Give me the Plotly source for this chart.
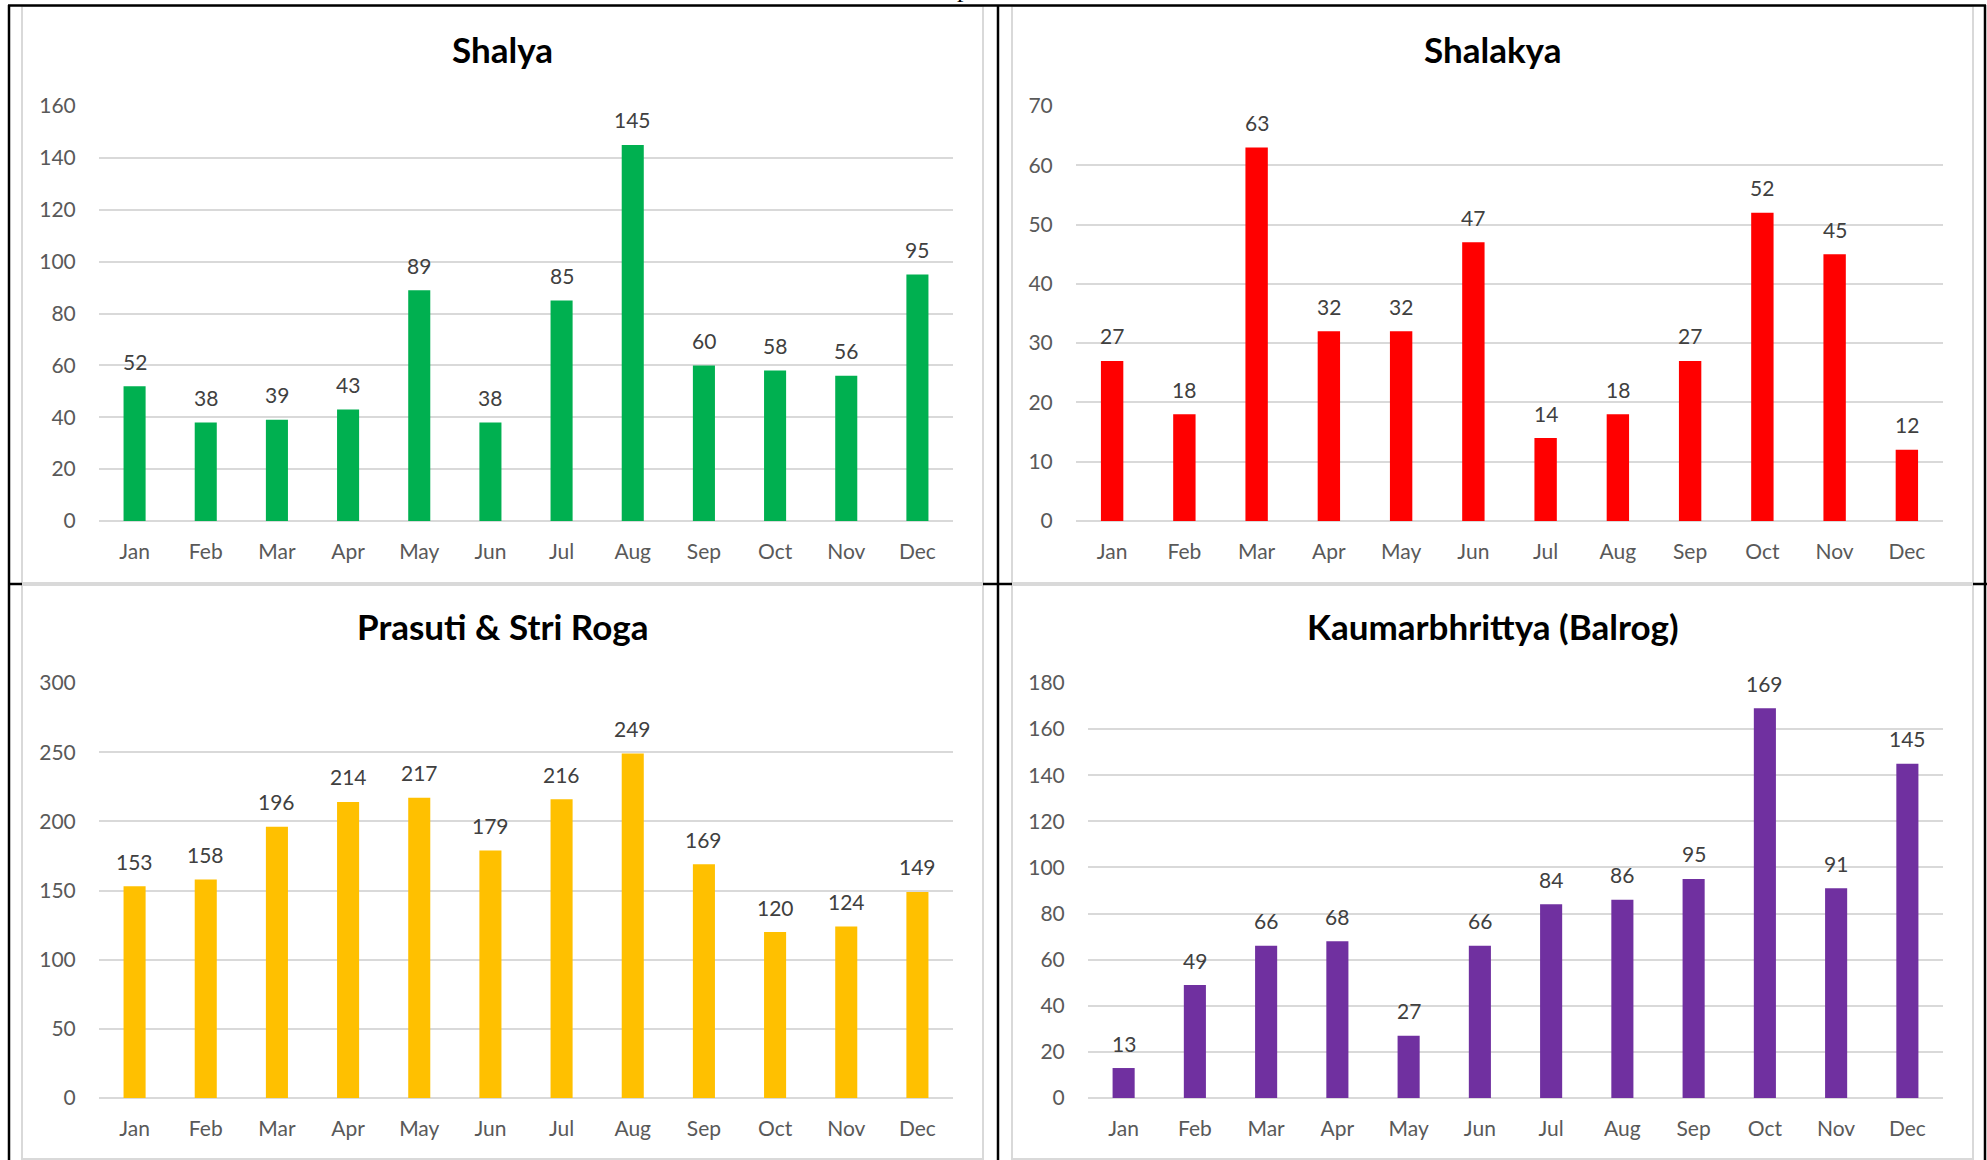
import plotly.graph_objects as go

W, H = 1987, 1160

months = ["Jan", "Feb", "Mar", "Apr", "May", "Jun", "Jul", "Aug", "Sep", "Oct", "Nov", "Dec"]
shalya = [52, 38, 39, 43, 89, 38, 85, 145, 60, 58, 56, 95]
shalakya = [27, 18, 63, 32, 32, 47, 14, 18, 27, 52, 45, 12]
prasuti = [153, 158, 196, 214, 217, 179, 216, 249, 169, 120, 124, 149]
kaumar = [13, 49, 66, 68, 27, 66, 84, 86, 95, 169, 91, 145]
titles = ["Shalya", "Shalakya", "Prasuti &amp; Stri Roga", "Kaumarbhrittya (Balrog)"]
y_max = [160, 70, 300, 180]
y_step = [20, 10, 50, 20]

series = [shalya, shalakya, prasuti, kaumar]
colors = ["#00B050", "#FF0000", "#FFC000", "#7030A0"]

# plot-area pixel boxes (x0, x1, ytop, ybottom)
areas = [(99, 953, 106, 521), (1076, 1943, 106, 521),
         (99, 953, 683, 1098), (1088, 1943, 683, 1098)]
# chart panel boxes (x0, y0, x1, y1)
panels = [(22, 6, 983, 583), (1012, 6, 1973, 583),
          (22, 585, 983, 1159), (1012, 585, 1973, 1159)]
title_pos = [(502.5, 49), (1492.5, 49), (502.5, 626), (1492.5, 626)]

FONT = "Lato"
px = lambda v: v / W
py = lambda v: 1 - v / H

fig = go.Figure()
shapes = []
annotations = []

for i in range(4):
    n = "" if i == 0 else str(i + 1)
    fig.add_trace(go.Bar(
        x=months, y=series[i], marker=dict(color=colors[i], line=dict(width=0)),
        cliponaxis=False, xaxis="x" + n, yaxis="y" + n, showlegend=False,
        hoverinfo="skip",
    ))
    for m, v in zip(months, series[i]):
        annotations.append(dict(text=str(v), x=m, y=v, xref="x" + n, yref="y" + n,
                                xanchor="center", yanchor="middle", yshift=25,
                                showarrow=False,
                                font=dict(family=FONT, size=21, color="#404040")))
    x0, x1, yt, yb = areas[i]
    fig.layout["xaxis" + n] = dict(
        domain=[px(x0), px(x1)], anchor="y" + n, type="category", automargin=False,
        showgrid=False, showline=False, zeroline=False,
        ticks="outside", ticklen=12, tickcolor="rgba(0,0,0,0)",
        tickfont=dict(family=FONT, size=21, color="#595959"),
    )
    fig.layout["yaxis" + n] = dict(
        domain=[py(yb), py(yt)], anchor="x" + n, range=[0, y_max[i]], automargin=False,
        dtick=y_step[i], tick0=0, showgrid=True, gridcolor="#D9D9D9", gridwidth=1.5,
        zeroline=True, zerolinecolor="#D9D9D9", zerolinewidth=1.5, showline=False,
        ticks="outside", ticklen=18, tickcolor="rgba(0,0,0,0)",
        tickfont=dict(family=FONT, size=21, color="#595959"),
    )
    a0, b0, a1, b1 = panels[i]
    shapes.append(dict(type="rect", xref="paper", yref="paper", x0=px(a0), x1=px(a1),
                       y0=py(b1), y1=py(b0), line=dict(color="#D9D9D9", width=2),
                       fillcolor="white", layer="below"))
    tx, ty = title_pos[i]
    annotations.append(dict(text="<b>" + titles[i] + "</b>", x=px(tx), y=py(ty),
                            xref="paper", yref="paper", xanchor="center", yanchor="middle",
                            showarrow=False, font=dict(family=FONT, size=35, color="#000000")))

# table borders (black)
black = dict(color="black", width=2.5)
lines = [(8, 5.5, 1986, 5.5), (9, 5, 9, 1160), (998, 5, 998, 1160), (1985, 5, 1985, 1160),
         (8, 584, 22, 584), (983, 584, 1012, 584), (1973, 584, 1987, 584)]
for (xa, ya, xb, yb_) in lines:
    shapes.append(dict(type="line", xref="paper", yref="paper", x0=px(xa), x1=px(xb),
                       y0=py(ya), y1=py(yb_), line=black, layer="above"))

# heading text above the table, clipped by the page top (only its descender shows)
annotations.append(dict(text="p", x=px(963), y=py(5), xref="paper", yref="paper",
                        xanchor="center", yanchor="bottom", showarrow=False,
                        font=dict(family="Liberation Serif", size=26, color="black")))

fig.update_layout(
    width=W, height=H, autosize=False,
    margin=dict(l=0, r=0, t=0, b=0, pad=0, autoexpand=False),
    paper_bgcolor="white", plot_bgcolor="rgba(0,0,0,0)",
    bargap=0.69, shapes=shapes, annotations=annotations, hovermode=False,
)

post = ("document.body.style.margin='0px';"
        "var d=document.getElementById('{plot_id}');"
        "d.style.position='fixed';d.style.top='0px';d.style.left='0px';")
fig.write_html("out.html", post_script=post, config={"displayModeBar": False})
